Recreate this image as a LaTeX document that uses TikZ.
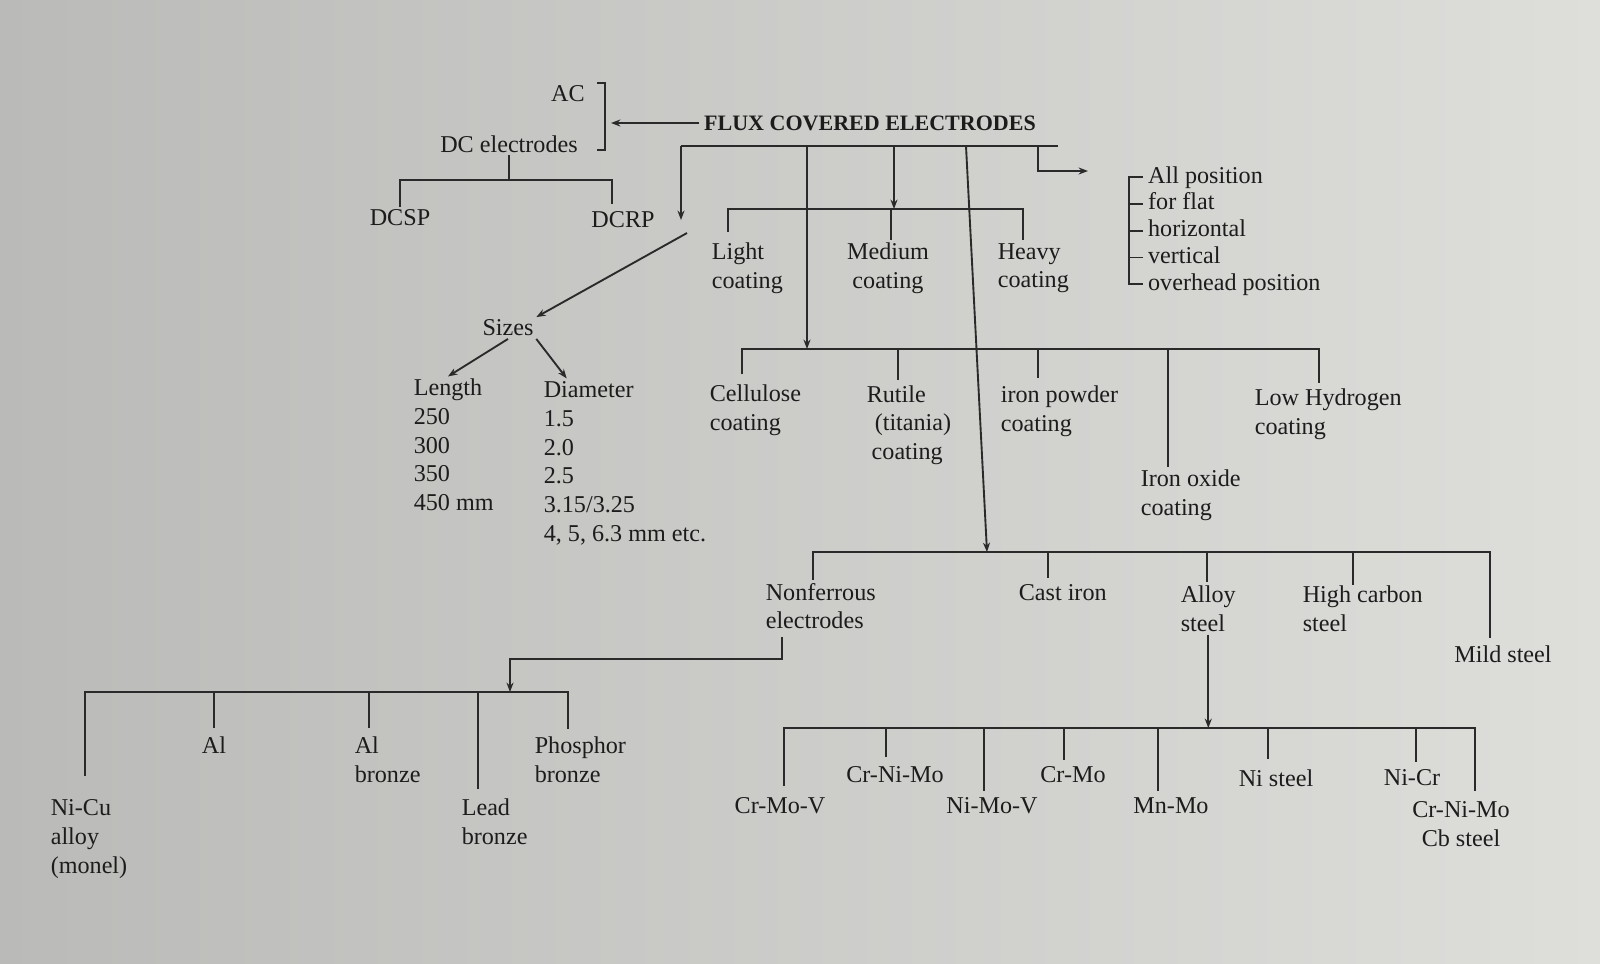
\documentclass[tikz,border=0pt]{standalone}
\usepackage{fontspec}
\setmainfont{Liberation Serif}
\usetikzlibrary{positioning,arrows.meta}
\definecolor{inkgrey}{RGB}{28,28,28}
\definecolor{linegrey}{RGB}{42,42,42}
\definecolor{paperdark}{RGB}{186,186,184}
\definecolor{paperlight}{RGB}{222,222,219}

\begin{document}
\begin{tikzpicture}[
    x=0.015cm, y=-0.015cm,
    font=\fontsize{10.3}{12.2}\selectfont,
    >={Stealth[length=4pt,width=3pt]},
    txt/.style={
        text=inkgrey,
        inner sep=1pt,
        align=left
    },
    headtxt/.style={
        text=inkgrey,
        inner sep=2pt,
        font=\fontsize{9.4}{11}\selectfont\bfseries
    },
    colhead/.style={
        txt,
        anchor=west,
        text height=7pt,
        text depth=2.2pt
    },
    posn/.style={
        txt,
        inner xsep=2pt,
        inner ysep=1pt,
        text height=7pt,
        text depth=2pt
    },
    link/.style={
        draw=linegrey,
        line width=0.8pt
    },
    arrow/.style={
        link,
        ->
    }
]

    % paper background
    \fill[left color=paperdark, right color=paperlight] (0,0) rectangle (1600,963);
    \useasboundingbox (0,0) rectangle (1600,963);

    % 1. Title and current type
    \node[headtxt] (flux) at (870,123) {FLUX COVERED ELECTRODES};
    \node[txt] (ac) at (568,94) {AC};
    \node[txt] (dc) at (509,144) {DC electrodes};
    \node[txt] (dcsp) at (400,218) {DCSP};
    \node[txt] (dcrp) at (623,220) {DCRP};

    \coordinate (brtop) at (605,83);
    \coordinate (brbot) at (605,150);
    \coordinate (brmid) at (611,123);
    \coordinate (dcbar) at (509,180);
    \draw[link] (597,83) -- (brtop) -- (brbot) -- (597,150);
    \draw[arrow] (flux.west) -- (brmid);
    \draw[link] (dc.south) -- (dcbar);
    \draw[link] (dcsp.north) |- (dcbar) -| (612,204);

    % title bar and its branches
    \draw[link] (681,146) -- (1058,146);
    \draw[arrow] (681,146) -- (681,220);
    \draw[arrow] (807,146) -- (807,349);
    \draw[arrow] (894,146) -- (894,209);
    \draw[arrow] (966,146) -- (987,552);
    \draw[arrow] (1038,146) |- (1088,171);

    % 2. Welding positions
    \node[posn, anchor=north west] (posall) at (1143,164) {All position};
    \node[posn, below=0pt of posall.south west, anchor=north west] (posflat) {for flat};
    \node[posn, below=0pt of posflat.south west, anchor=north west] (poshoriz) {horizontal};
    \node[posn, below=0pt of poshoriz.south west, anchor=north west] (posvert) {vertical};
    \node[posn, below=0pt of posvert.south west, anchor=north west] (posover) {overhead position};
    \draw[link] (posall.west) -- ++(-14,0) |- (posover.west);
    \foreach \p in {posflat,poshoriz,posvert}
        \draw[link] (\p.west) -- ++(-14,0);

    % 3. Coating thickness
    \node[txt, anchor=west] (light) at (709,268) {Light\\coating};
    \node[txt, align=center] (medium) at (888,268) {Medium\\coating};
    \node[txt, anchor=west] (heavy) at (995,268) {Heavy\\coating};
    \draw[link] (728,232) |- (1023,209) -- (1023,240);
    \draw[link] (891,209) -- (891,240);

    % 4. Coating type
    \node[txt, anchor=west] (cellulose) at (707,410) {Cellulose\\coating};
    \node[txt, anchor=west] (rutile) at (864,425) {Rutile\\\hspace*{3.4pt}(titania)\\\hspace*{2.1pt}coating};
    \node[txt, anchor=west] (ironpowder) at (998,411) {iron powder\\coating};
    \node[txt, anchor=west] (ironoxide) at (1138,495) {Iron oxide\\coating};
    \node[txt, anchor=west] (lowhydrogen) at (1252,414) {Low Hydrogen\\coating};
    \draw[link] (742,374) |- (1319,349) -- (1319,383);
    \foreach \x/\y in {898/380, 1038/378, 1168/467}
        \draw[link] (\x,349) -- (\x,\y);

    % 5. Sizes
    \node[txt] (sizes) at (508,328) {Sizes};
    \node[colhead] (length) at (411,390) {Length};
    \node[txt, below=1pt of length.south west, anchor=north west] (lengthvals) {250\\300\\350\\450 mm};
    \node[colhead] (diameter) at (541,392) {Diameter};
    \node[txt, below=1pt of diameter.south west, anchor=north west] (diamvals) {1.5\\2.0\\2.5\\3.15/3.25\\4, 5, 6.3 mm etc.};
    \draw[arrow] (687,233) -- (sizes.north east);
    \draw[arrow] (sizes.south) -- (length.north);
    \draw[arrow] (sizes.south east) -- ([xshift=-3.3mm]diameter.north);

    % 6. Electrodes by base metal
    \node[txt, anchor=west] (nonferrous) at (763,606) {Nonferrous\\electrodes};
    \node[txt, anchor=west] (castiron) at (1016,593) {Cast iron};
    \node[txt, anchor=west] (alloy) at (1178,609) {Alloy\\steel};
    \node[txt, anchor=west] (highcarbon) at (1300,609) {High carbon\\steel};
    \node[txt] (mildsteel) at (1503,654) {Mild steel};
    \draw[link] (813,580) |- (1490,552) -- (1490,638);
    \foreach \x/\y in {1048/578, 1207/582, 1353/585}
        \draw[link] (\x,552) -- (\x,\y);

    % 7. Nonferrous electrodes
    \node[txt, anchor=west] (nicu) at (48,839) {Ni-Cu\\alloy\\(monel)};
    \node[txt] (al) at (214,745) {Al};
    \node[txt, anchor=west] (albronze) at (352,760) {Al\\bronze};
    \node[txt, anchor=west] (leadbronze) at (459,822) {Lead\\bronze};
    \node[txt, anchor=west] (phosphor) at (532,760) {Phosphor\\bronze};
    \draw[arrow] (782,637) -- (782,659) -| (510,692);
    \draw[link] (85,776) |- (568,692) -- (568,729);
    \foreach \x/\y in {214/728, 369/728, 478/789}
        \draw[link] (\x,692) -- (\x,\y);

    % 8. Alloy steel electrodes
    \coordinate (albar) at (1205,728);
    \node[txt] (crmov) at (780,806) {Cr-Mo-V};
    \node[txt] (crnimo) at (895,775) {Cr-Ni-Mo};
    \node[txt] (nimov) at (992,806) {Ni-Mo-V};
    \node[txt] (crmo) at (1073,775) {Cr-Mo};
    \node[txt] (mnmo) at (1171,806) {Mn-Mo};
    \node[txt] (nisteel) at (1276,778) {Ni steel};
    \node[txt] (nicr) at (1412,778) {Ni-Cr};
    \node[txt, align=center] (crnimocb) at (1461,824) {Cr-Ni-Mo\\Cb steel};
    \draw[arrow] (alloy.south) -- (alloy.south |- albar);
    \draw[link] (784,786) |- (1475,728) -- (1475,791);
    \foreach \x/\y in {886/757, 984/791, 1064/760, 1158/791, 1268/759, 1416/762}
        \draw[link] (\x,728) -- (\x,\y);

\end{tikzpicture}
\end{document}
